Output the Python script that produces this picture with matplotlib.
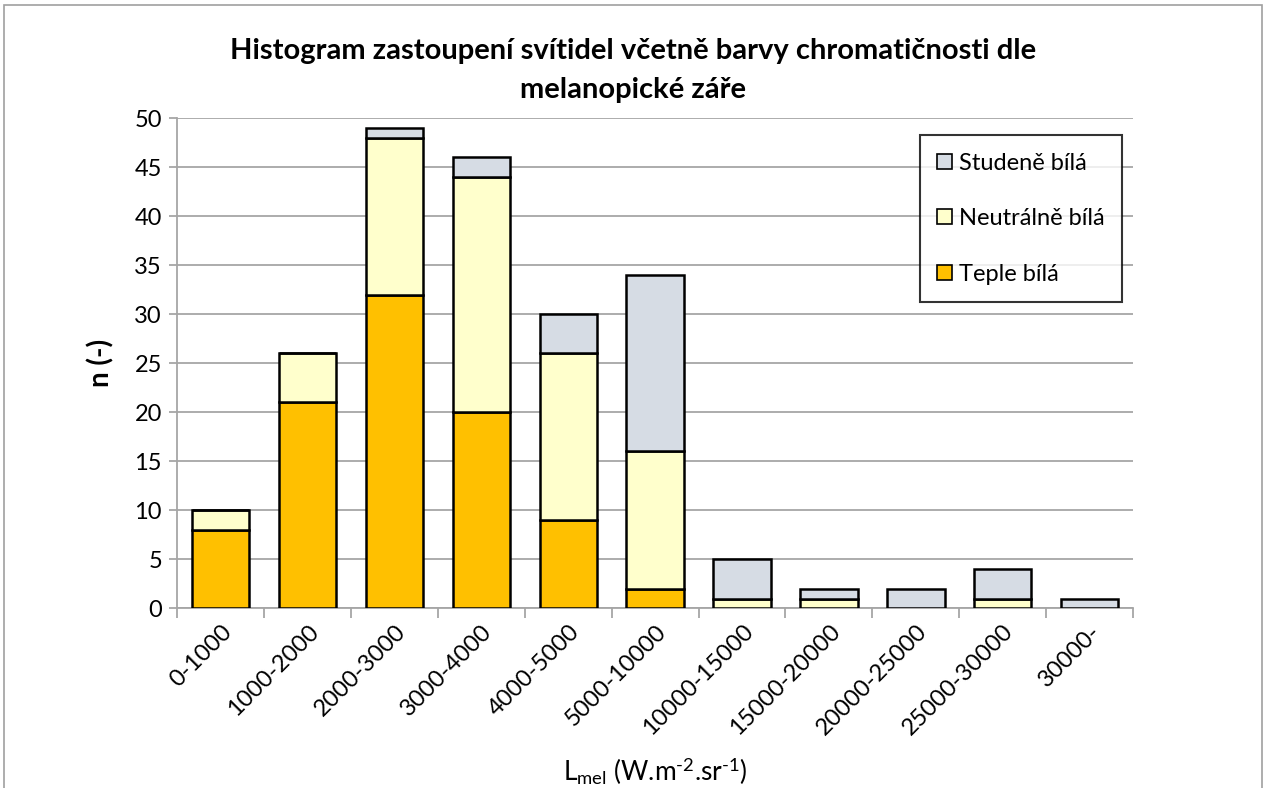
import matplotlib
matplotlib.use('Agg')
import matplotlib.pyplot as plt
import numpy as np

plt.rcParams['font.family'] = ['Lato', 'DejaVu Sans']
plt.rcParams['mathtext.fontset'] = 'custom'
plt.rcParams['mathtext.rm'] = 'Lato'
plt.rcParams['mathtext.it'] = 'Lato:italic'

# data
kategorie = ['0-1000', '1000-2000', '2000-3000', '3000-4000', '4000-5000', '5000-10000',
             '10000-15000', '15000-20000', '20000-25000', '25000-30000', '30000-']
teple = [8, 21, 32, 20, 9, 2, 0, 0, 0, 0, 0]
neutralne = [2, 5, 16, 24, 17, 14, 1, 1, 0, 1, 0]
studene = [0, 0, 1, 2, 4, 18, 4, 1, 2, 3, 1]

x = np.arange(len(kategorie))
teple = np.array(teple)
neutralne = np.array(neutralne)
studene = np.array(studene)

fig = plt.figure(figsize=(12.66, 7.88), dpi=100)
ax = fig.add_axes([0.140, 0.228, 0.755, 0.622])

# outer chart frame
fig.patches.append(plt.Rectangle((0.003, -0.05), 0.994, 1.044, transform=fig.transFigure,
                                 fill=False, edgecolor='#a0a0a0', linewidth=1.2))

sirka = 0.66
kw = dict(width=sirka, edgecolor='black', linewidth=1.8, zorder=3)
ax.bar(x, teple, color='#FFC000', label='Teple bílá', **kw)
ax.bar(x, neutralne, bottom=teple, color='#FFFFCC', label='Neutrálně bílá', **kw)
ax.bar(x, studene, bottom=teple + neutralne, color='#D6DCE4', label='Studeně bílá', **kw)

ax.set_xlim(-0.5, len(kategorie) - 0.5)
ax.set_ylim(0, 50)
ax.set_yticks(range(0, 51, 5))
ax.yaxis.grid(True, color='#a6a6a6', linewidth=1.3, zorder=0)
ax.set_axisbelow(True)

ax.set_xticks(x)
ax.set_xticklabels(kategorie, rotation=45, ha='right', rotation_mode='anchor', fontsize=17)
ax.set_xticks(np.arange(-0.5, len(kategorie), 1), minor=True)
ax.tick_params(axis='x', which='major', length=0, pad=9)
ax.tick_params(axis='x', which='minor', length=7, color='#a6a6a6', width=1.3)
ax.tick_params(axis='y', labelsize=17, length=6, color='#a6a6a6', width=1.3, pad=5)

for s in ['top', 'right']:
    ax.spines[s].set_visible(False)
ax.spines['left'].set_color('#a6a6a6')
ax.spines['bottom'].set_color('#a6a6a6')
ax.spines['left'].set_linewidth(1.3)
ax.spines['bottom'].set_linewidth(1.3)

ax.set_ylabel('n (-)', fontsize=20, fontweight='bold', labelpad=14)
ax.set_xlabel(r'L$_{\mathrm{mel}}$ (W.m$^{\text{-2}}$.sr$^{\text{-1}}$)', fontsize=19, labelpad=12)

fig.suptitle('Histogram zastoupení svítidel včetně barvy chromatičnosti dle\nmelanopické záře',
             fontsize=21, fontweight='bold', y=0.952, linespacing=1.65)

handles, labels = ax.get_legend_handles_labels()
leg = ax.legend(handles[::-1], labels[::-1], loc='upper right', bbox_to_anchor=(0.9885, 0.965),
                borderaxespad=0, fontsize=17, frameon=True, fancybox=False, edgecolor='black',
                handlelength=0.6, handleheight=0.6, handletextpad=0.3,
                labelspacing=1.45, borderpad=0.75)
leg.get_frame().set_linewidth(1.5)
for h in leg.legend_handles:
    h.set_linewidth(1.2)

fig.savefig('out.png', dpi=100)
